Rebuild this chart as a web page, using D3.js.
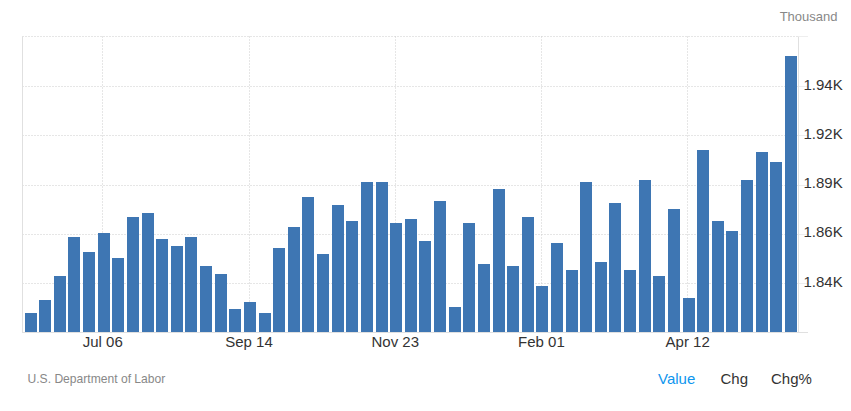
<!DOCTYPE html>
<html><head><meta charset="utf-8">
<script src="https://cdn.jsdelivr.net/npm/d3@7"></script>
<style>html,body{margin:0;padding:0;background:#fff}svg{display:block}text{font-family:"Liberation Sans",Arial,sans-serif}</style>
</head><body><svg id="c" width="851" height="411"></svg>
<script>
const weeks = ["Jun 01","Jun 08","Jun 15","Jun 22","Jun 29","Jul 06","Jul 13","Jul 20","Jul 27","Aug 03","Aug 10","Aug 17","Aug 24","Aug 31","Sep 07","Sep 14","Sep 21","Sep 28","Oct 05","Oct 12","Oct 19","Oct 26","Nov 02","Nov 09","Nov 16","Nov 23","Nov 30","Dec 07","Dec 14","Dec 21","Dec 28","Jan 04","Jan 11","Jan 18","Jan 25","Feb 01","Feb 08","Feb 15","Feb 22","Mar 01","Mar 08","Mar 15","Mar 22","Mar 29","Apr 05","Apr 12","Apr 19","Apr 26","May 03","May 10","May 17","May 24","May 31"];
const values = [1824.8,1831.4,1843.6,1863.4,1855.8,1865.5,1852.8,1873.6,1875.6,1862.4,1858.9,1863.4,1848.7,1844.6,1826.9,1830.4,1824.8,1857.8,1868.5,1883.7,1854.8,1879.7,1871.5,1891.3,1891.3,1870.5,1872.6,1861.4,1881.7,1827.9,1870.5,1849.7,1887.8,1848.7,1873.6,1838.6,1860.4,1846.7,1891.3,1850.7,1880.7,1846.7,1892.4,1843.6,1877.6,1832.5,1907.6,1871.5,1866.5,1892.4,1906.6,1901.5,1955.3];
const yTicks = [1840,1865,1890,1915,1940];
const yLabels = ["1.84K","1.86K","1.89K","1.92K","1.94K"];
const xTicks = ["Jul 06","Sep 14","Nov 23","Feb 01","Apr 12"];
const unitLabel = "Thousand";
const sourceLabel = "U.S. Department of Labor";
const tabs = ["Value","Chg","Chg%"];

const svg = d3.select("#c");
const L=22.5, R=798.5, T=36.5, B=332, RX=808;
const step = 14.622;
const x = d3.scaleBand().domain(weeks).range([25.1,25.1+52*step+12]).paddingInner((step-12)/step).paddingOuter(0);
const y = d3.scaleLinear().domain([1815,1965]).range([332.4,36.9]);
const tickX = d => x(d)+x.bandwidth()/2-1.4;
const gridDot = "1,2", gridCol = "#cccccc", axisCol = "#e0e0e0", stubCol = "#eeeeee";

// horizontal grid
const hY = [...yTicks.map(d=>Math.round(y(d))+0.5), T];
svg.append("g").selectAll("line").data(hY).join("line")
  .attr("x1",L).attr("x2",R).attr("y1",d=>d).attr("y2",d=>d)
  .attr("stroke",gridCol).attr("stroke-dasharray",gridDot);
svg.append("g").selectAll("line").data(hY).join("line")
  .attr("x1",R).attr("x2",RX).attr("y1",d=>d).attr("y2",d=>d)
  .attr("stroke",stubCol);
// vertical grid
svg.append("g").selectAll("line").data(xTicks).join("line")
  .attr("x1",d=>Math.floor(tickX(d))+0.5).attr("x2",d=>Math.floor(tickX(d))+0.5)
  .attr("y1",T).attr("y2",B)
  .attr("stroke",gridCol).attr("stroke-dasharray",gridDot);
// frame axes
svg.append("line").attr("x1",L).attr("x2",L).attr("y1",T).attr("y2",B+1).attr("stroke",axisCol);
svg.append("line").attr("x1",R).attr("x2",R).attr("y1",T).attr("y2",B+1).attr("stroke",axisCol);
svg.append("line").attr("x1",L).attr("x2",RX).attr("y1",B+0.5).attr("y2",B+0.5).attr("stroke",axisCol);

// bars
svg.append("g").selectAll("rect").data(values).join("rect")
  .attr("x",(d,i)=>Math.floor(x(weeks[i])))
  .attr("width",Math.round(x.bandwidth()))
  .attr("y",d=>Math.round(y(d)))
  .attr("height",d=>B-Math.round(y(d)))
  .attr("fill","#3e76b3");

// y labels
svg.append("g").selectAll("text").data(yTicks).join("text")
  .attr("x",803.5).attr("y",d=>y(d)+3.5).attr("font-size",15).attr("fill","#333")
  .text((d,i)=>yLabels[i]);
// x labels
svg.append("g").selectAll("text").data(xTicks).join("text")
  .attr("x",tickX).attr("y",347).attr("text-anchor","middle")
  .attr("font-size",15).attr("fill","#333").text(d=>d);

svg.append("text").attr("x",837.5).attr("y",21).attr("text-anchor","end").attr("font-size",13).attr("fill","#888").text(unitLabel);
svg.append("text").attr("x",27.5).attr("y",383).attr("font-size",12.1).attr("fill","#888").text(sourceLabel);
const tabX=[658,720.5,771], tabCol=["#0d96ee","#333","#333"];
svg.append("g").selectAll("text").data(tabs).join("text")
  .attr("x",(d,i)=>tabX[i]).attr("y",384).attr("font-size",15)
  .attr("fill",(d,i)=>tabCol[i]).text(d=>d);
</script></body></html>
